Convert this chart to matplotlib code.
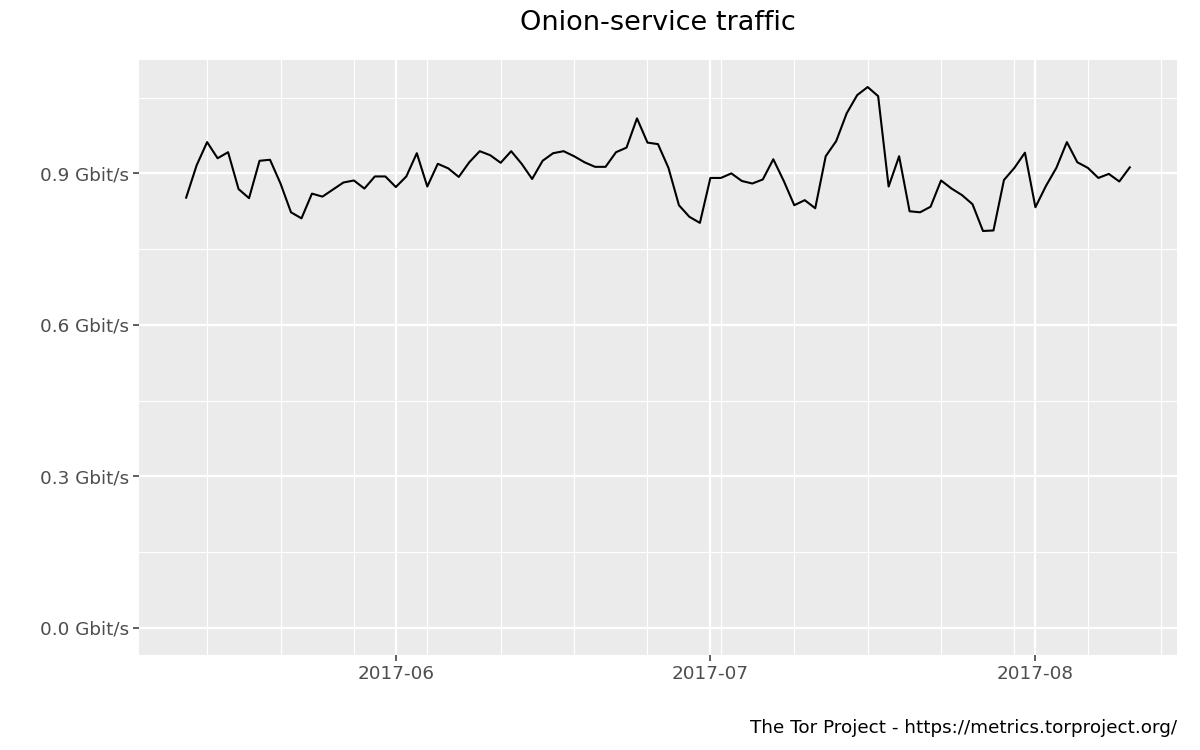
import numpy as np
import pandas as pd
import matplotlib
matplotlib.use("Agg")
import matplotlib.pyplot as plt
import matplotlib.dates as mdates
from matplotlib.ticker import FixedLocator, FuncFormatter

# daily onion-service traffic, 2017-05-12 .. 2017-08-10 (Gbit/s)
start_date = "2017-05-12"
traffic = [
    0.852, 0.916, 0.962, 0.930, 0.942, 0.869, 0.851, 0.925, 0.927, 0.880,
    0.823, 0.811, 0.860, 0.854, 0.868, 0.882, 0.886, 0.870, 0.894, 0.894,
    0.873, 0.894, 0.940, 0.874, 0.919, 0.910, 0.893, 0.922, 0.944, 0.936,
    0.921, 0.944, 0.919, 0.889, 0.925, 0.940, 0.944, 0.934, 0.922, 0.913,
    0.913, 0.942, 0.951, 1.009, 0.961, 0.958, 0.911, 0.837, 0.814, 0.802,
    0.891, 0.891, 0.900, 0.885, 0.880, 0.888, 0.928, 0.885, 0.837, 0.847,
    0.831, 0.934, 0.964, 1.019, 1.055, 1.071, 1.053, 0.874, 0.934, 0.825,
    0.823, 0.834, 0.886, 0.870, 0.857, 0.839, 0.786, 0.787, 0.887, 0.911,
    0.941, 0.833, 0.875, 0.911, 0.962, 0.922, 0.911, 0.891, 0.899, 0.884,
    0.912,
]
y_ticks = [0.0, 0.3, 0.6, 0.9]
x_ticks = ["2017-06-01", "2017-07-01", "2017-08-01"]

dates = pd.date_range(start_date, periods=len(traffic), freq="D")
xnum = mdates.date2num(dates)

fig = plt.figure(figsize=(12, 7.5), dpi=100)
ax = fig.add_axes([0.1158, 0.1267, 0.8650, 0.7933])
ax.set_facecolor("#ebebeb")

ax.plot(xnum, traffic, color="black", linewidth=1.5, zorder=3)

# ggplot-like 5% expansion
span = xnum[-1] - xnum[0]
ax.set_xlim(xnum[0] - 0.05 * span, xnum[-1] + 0.05 * span)
ymax = max(traffic)
ax.set_ylim(-0.05 * ymax, ymax * 1.05)

major_x = mdates.date2num(pd.to_datetime(x_ticks))
ax.xaxis.set_major_locator(FixedLocator(major_x))
ax.xaxis.set_major_formatter(FuncFormatter(lambda v, p: mdates.num2date(v).strftime("%Y-%m")))
ax.xaxis.set_minor_locator(mdates.WeekdayLocator(byweekday=mdates.SU))
ax.yaxis.set_major_locator(FixedLocator(y_ticks))
ax.yaxis.set_minor_locator(FixedLocator([0.15, 0.45, 0.75, 1.05]))
ax.yaxis.set_major_formatter(FuncFormatter(lambda v, p: f"{v:.1f} Gbit/s"))

ax.grid(which="major", color="white", linewidth=1.6)
ax.grid(which="minor", color="white", linewidth=0.8)
ax.set_axisbelow(True)
for s in ax.spines.values():
    s.set_visible(False)

ax.tick_params(which="major", length=4, width=1.1, color="#333333",
               labelcolor="#4d4d4d", labelsize=13.2, pad=3)
ax.tick_params(which="minor", length=0)

fig.text(0.5483, 0.97, "Onion-service traffic", ha="center", va="center",
         fontsize=19.5, color="black")
fig.text(0.9808, 0.029, "The Tor Project - https://metrics.torproject.org/",
         ha="right", va="center", fontsize=13.2, color="black")

fig.savefig("out.png", dpi=100)
